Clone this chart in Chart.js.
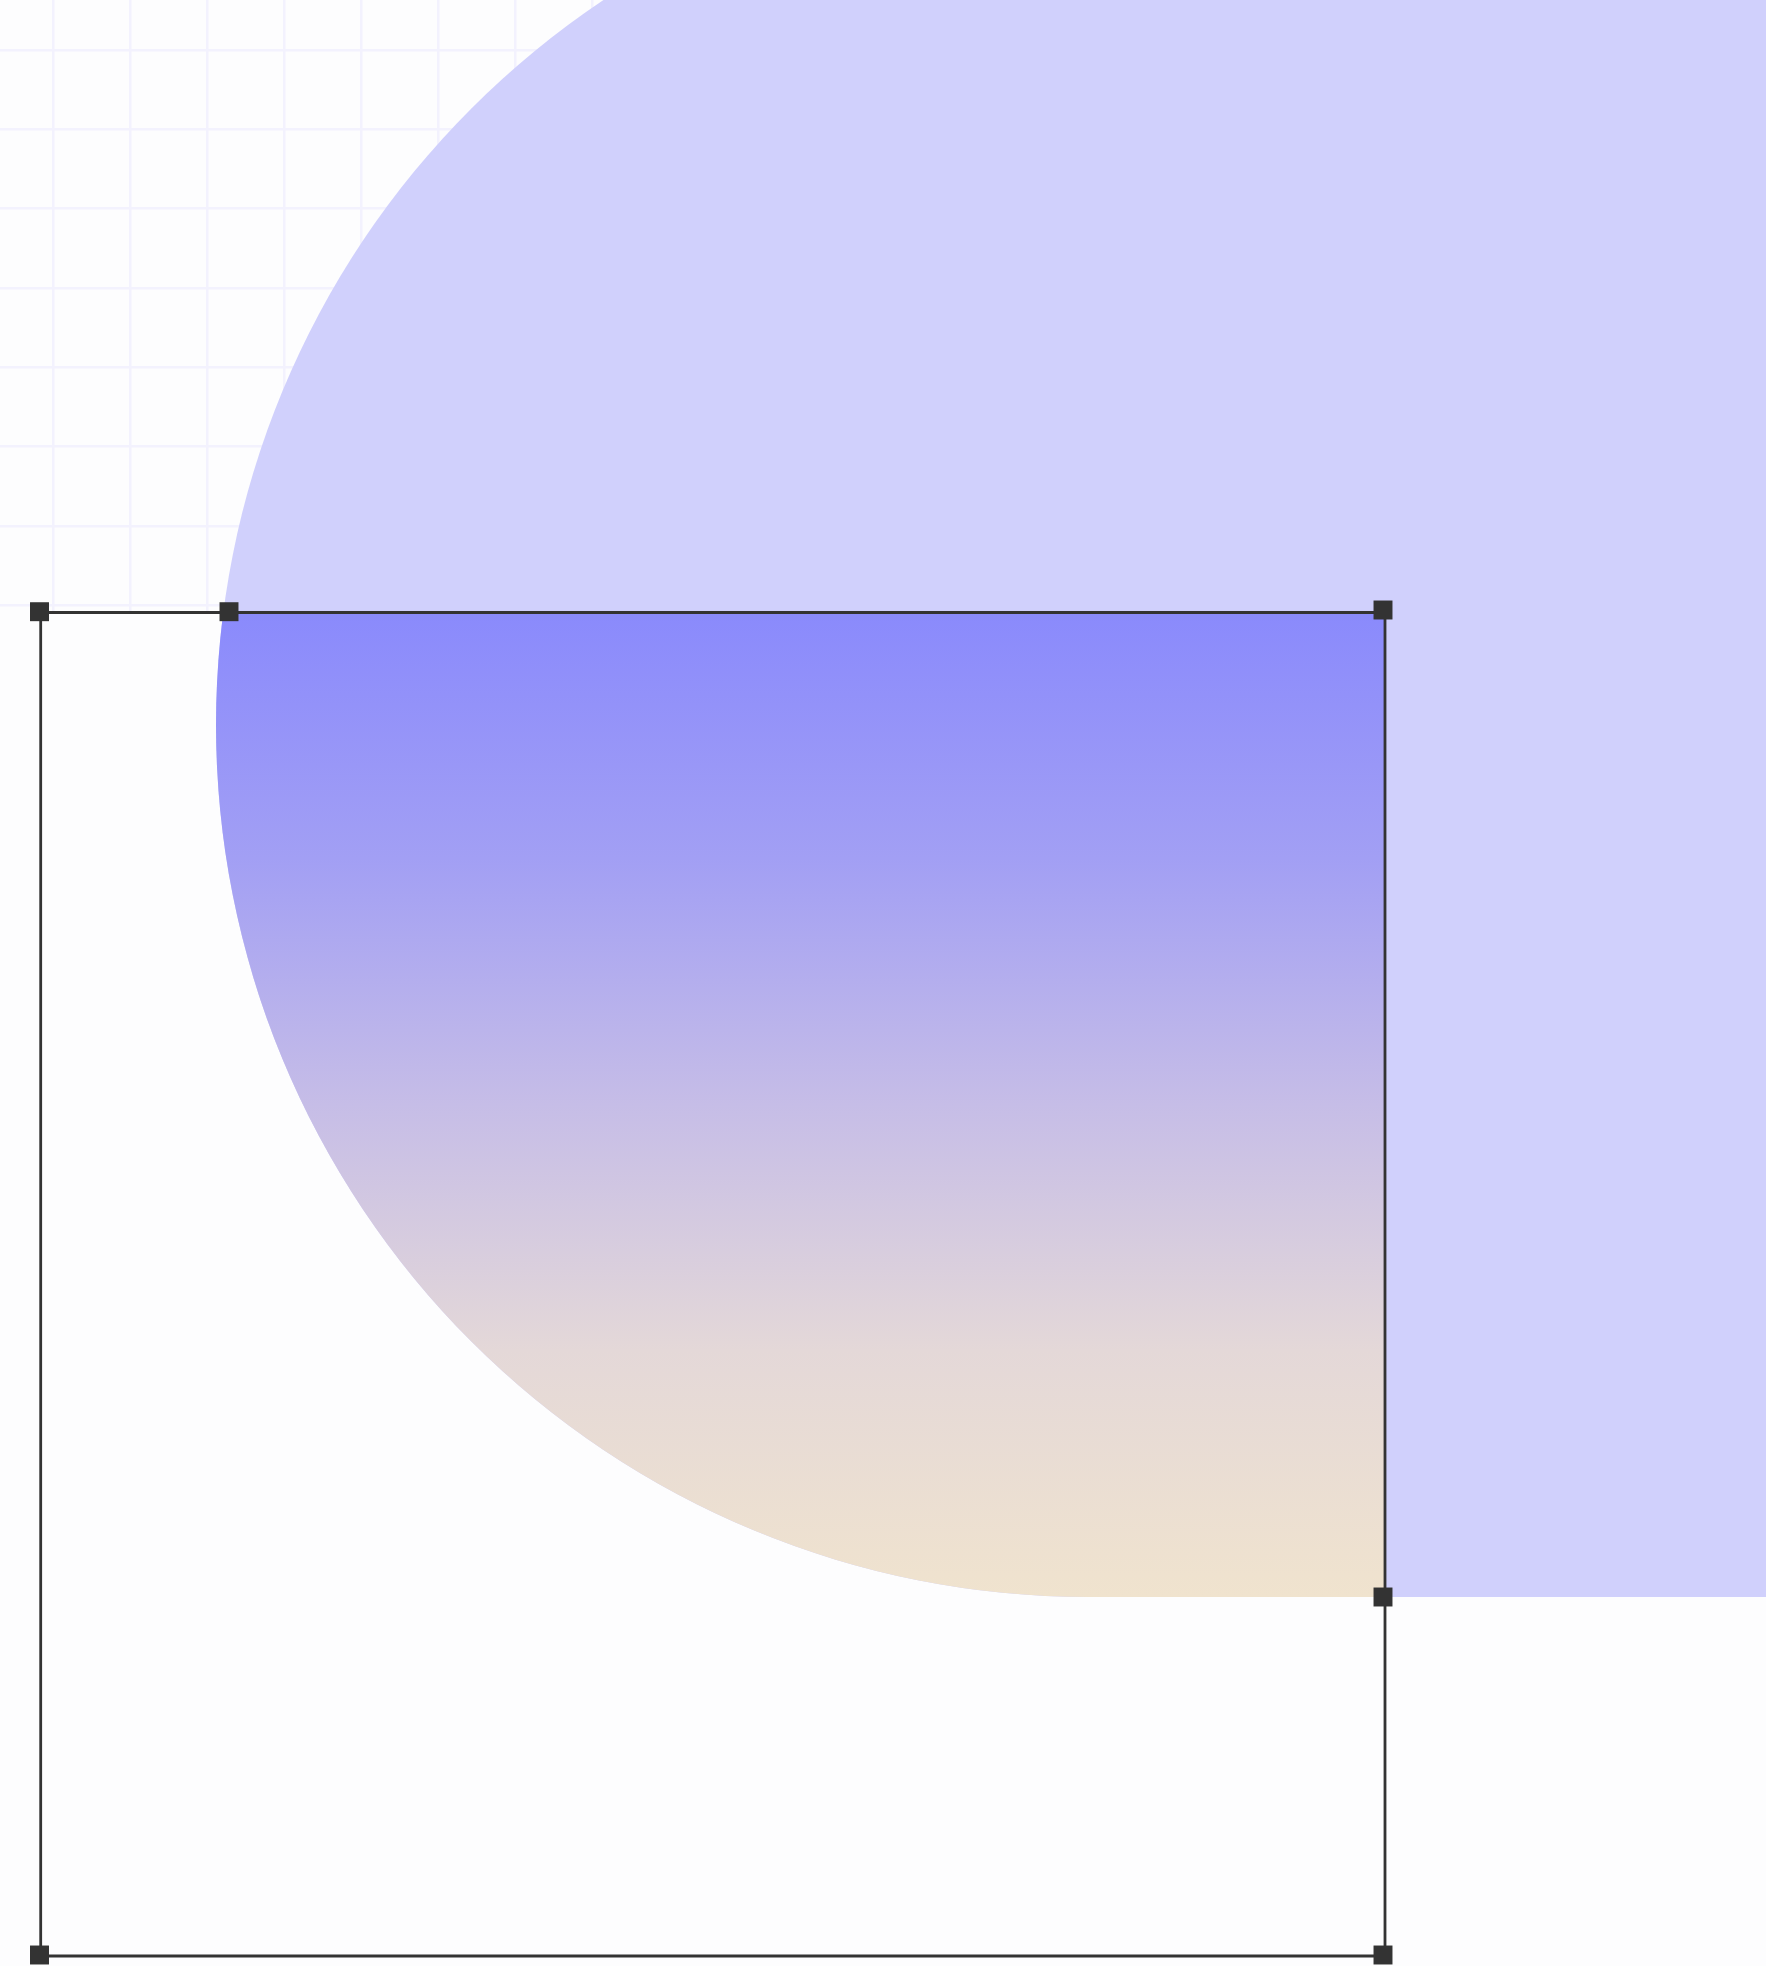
<!DOCTYPE html>
<html>
<head>
<meta charset="utf-8">
<title>Selection frame over gradient blob</title>
<script src="https://cdn.jsdelivr.net/npm/chart.js@4.4.1/dist/chart.umd.min.js"></script>
<style>
  html, body { margin: 0; padding: 0; background: #fdfdfe; }
  canvas { display: block; }
</style>
</head>
<body>
<canvas id="sketch" width="1766" height="1966"></canvas>
<script>
// Page space: one unit = one pixel, origin at the top-left corner
const pageWidth = 1766;
const pageHeight = 1966;

// Background grid (only shows above the frame)
const gridStartX = 53.6;
const gridStepX = 77;
const gridStartY = 50;
const gridStepY = 79.3;
const gridBottom = 612.5;

// Lavender blob: a capsule, half circle on the left, running off to the right
const blobCentre = [1088, 725];
const blobRadius = 872;
const blobRightEnd = 2700;

// Gradient runs from the frame top down to the blob's bottom edge
const gradientTop = 612.5;
const gradientBottom = 1597;

// Selection frame (closed path) and its square handles
const frameX = [40.7, 1385, 1385, 40.7, 40.7];
const frameY = [612.5, 612.5, 1956, 1956, 612.5];
const handleX = [39.5, 229, 1383, 1383, 39.5, 1383];
const handleY = [611.7, 611.7, 610, 1597, 1955, 1955];

// Colours
const paper = '#fdfdfe';
const gridColor = '#f3f2fe';
const lavender = '#d0d0fc';
const ink = '#333333';
const gradientStops = [
  [0, '#8a8afc'],
  [0.25, '#a29ff4'],
  [0.5, '#c6bde7'],
  [0.75, '#e4d8d8'],
  [1, '#f0e3ce']
];

const toPoints = (xs, ys) => xs.map((x, i) => ({ x: x, y: ys[i] }));

// Blob thickness in pixels, via the y scale
function blobWidth(chart) {
  const y = chart.scales.y;
  const w = y ? 2 * Math.abs(y.getPixelForValue(blobRadius) - y.getPixelForValue(0)) : NaN;
  return isFinite(w) && w > 0 ? w : 1;
}

function blobGradient(chart) {
  const y = chart.scales.y;
  const top = y ? y.getPixelForValue(gradientTop) : NaN;
  const bottom = y ? y.getPixelForValue(gradientBottom) : NaN;
  if (!isFinite(top) || !isFinite(bottom)) return gradientStops[0][1];
  const g = chart.ctx.createLinearGradient(0, top, 0, bottom);
  gradientStops.forEach(s => g.addColorStop(s[0], s[1]));
  return g;
}

// Clip datasets flagged clipToFrame to the selection frame
const frameClip = {
  id: 'frameClip',
  beforeDatasetDraw(chart, args) {
    if (!chart.data.datasets[args.index].clipToFrame) return;
    const { x, y } = chart.scales;
    const left = x.getPixelForValue(Math.min(...frameX));
    const right = x.getPixelForValue(Math.max(...frameX));
    const top = y.getPixelForValue(Math.min(...frameY));
    const bottom = y.getPixelForValue(Math.max(...frameY));
    const ctx = chart.ctx;
    ctx.save();
    ctx.beginPath();
    ctx.rect(left, top, right - left, bottom - top);
    ctx.clip();
  },
  afterDatasetDraw(chart, args) {
    if (chart.data.datasets[args.index].clipToFrame) chart.ctx.restore();
  }
};

function gridTicks(start, step, end) {
  return axis => {
    const ticks = [];
    for (let v = start; v <= end; v += step) ticks.push({ value: v });
    axis.ticks = ticks;
  };
}

const ctx = document.getElementById('sketch').getContext('2d');
new Chart(ctx, {
  type: 'scatter',
  data: {
    datasets: [
      {
        // plain paper below the grid band
        type: 'line',
        data: [{ x: 0, y: gridBottom }, { x: pageWidth, y: gridBottom }],
        fill: { value: pageHeight },
        backgroundColor: paper,
        borderColor: 'rgba(0,0,0,0)',
        borderWidth: 0,
        pointRadius: 0,
        order: 6
      },
      {
        // lavender blob
        type: 'line',
        data: [{ x: blobCentre[0], y: blobCentre[1] }, { x: blobRightEnd, y: blobCentre[1] }],
        borderColor: lavender,
        borderWidth: c => blobWidth(c.chart),
        borderCapStyle: 'round',
        fill: false,
        pointRadius: 0,
        order: 5
      },
      {
        // the same blob, gradient, inside the frame only
        type: 'line',
        data: [{ x: blobCentre[0], y: blobCentre[1] }, { x: blobRightEnd, y: blobCentre[1] }],
        borderColor: c => blobGradient(c.chart),
        borderWidth: c => blobWidth(c.chart),
        borderCapStyle: 'round',
        fill: false,
        pointRadius: 0,
        clipToFrame: true,
        order: 4
      },
      {
        // selection frame
        type: 'line',
        data: toPoints(frameX, frameY),
        borderColor: ink,
        borderWidth: 2.8,
        borderCapStyle: 'square',
        borderJoinStyle: 'miter',
        fill: false,
        pointRadius: 0,
        order: 2
      },
      {
        // handles
        type: 'scatter',
        data: toPoints(handleX, handleY),
        pointStyle: 'rect',
        pointRadius: 13.4,
        pointBackgroundColor: ink,
        pointBorderWidth: 0,
        order: 1
      }
    ]
  },
  options: {
    responsive: false,
    animation: false,
    events: [],
    layout: { padding: 0, autoPadding: false },
    plugins: {
      legend: { display: false },
      tooltip: { enabled: false }
    },
    scales: {
      x: {
        type: 'linear',
        min: 0,
        max: pageWidth,
        afterBuildTicks: gridTicks(gridStartX, gridStepX, pageWidth),
        ticks: { display: false },
        border: { display: false },
        grid: { color: gridColor, lineWidth: 2.5, drawTicks: false }
      },
      y: {
        type: 'linear',
        min: 0,
        max: pageHeight,
        reverse: true,
        afterBuildTicks: gridTicks(gridStartY, gridStepY, pageHeight),
        ticks: { display: false },
        border: { display: false },
        grid: { color: gridColor, lineWidth: 2.5, drawTicks: false }
      }
    }
  },
  plugins: [frameClip]
});
</script>
</body>
</html>
